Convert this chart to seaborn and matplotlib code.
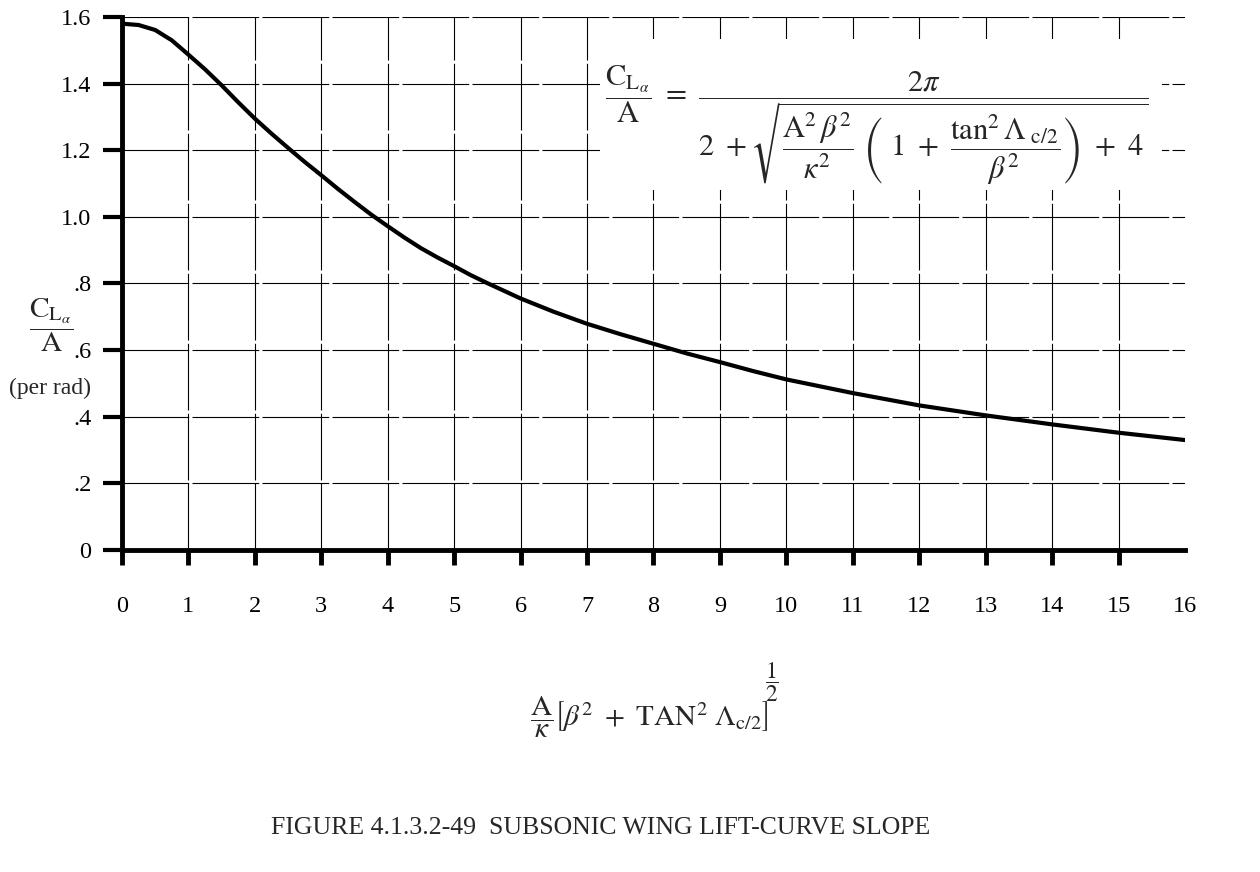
import numpy as np
import pandas as pd
import matplotlib
matplotlib.use("Agg")
import matplotlib.pyplot as plt
from matplotlib.patches import Rectangle
import seaborn as sns

# values
x_param = [0, 0.25, 0.5, 0.75, 1, 1.25, 1.5, 1.75, 2, 2.25, 2.5, 2.75, 3, 3.25, 3.5, 3.75,
           4, 4.25, 4.5, 4.75, 5, 5.25, 5.5, 5.75, 6, 6.5, 7, 7.5, 8, 8.5, 9, 9.5, 10,
           11, 12, 13, 14, 15, 16]
cla_over_a = [1.580, 1.576, 1.561, 1.530, 1.487, 1.443, 1.395, 1.344, 1.295, 1.250, 1.207,
              1.165, 1.125, 1.084, 1.045, 1.007, 0.972, 0.938, 0.906, 0.878, 0.852, 0.825,
              0.801, 0.778, 0.755, 0.715, 0.679, 0.648, 0.619, 0.590, 0.564, 0.537, 0.512,
              0.471, 0.434, 0.404, 0.377, 0.352, 0.330]
x_ticks = list(range(0, 16))     # ticks with a stub + grid line
x_last = [16]                     # labelled only
y_ticks = [0, 0.2, 0.4, 0.6, 0.8, 1.0, 1.2, 1.4, 1.6]
y_ticklabels = ["0", ".2", ".4", ".6", ".8", "1.0", "1.2", "1.4", "1.6"]

df = pd.DataFrame({"x": x_param, "cla": cla_over_a})

sns.set_theme(style="white")
plt.rcParams["font.family"] = ["Liberation Serif", "DejaVu Serif"]
plt.rcParams["mathtext.fontset"] = "stix"

fig = plt.figure(figsize=(12.6, 8.72), dpi=100)
ax = fig.add_axes([0.0968, 0.3693, 0.8437, 0.6112])

sns.lineplot(data=df, x="x", y="cla", color="black", lw=3, ax=ax, zorder=5,
             solid_joinstyle="round", solid_capstyle="round")

ax.set_xlim(0, 16)
ax.set_ylim(0, 1.6)
ax.set_xticks(x_ticks)
ax.set_xticklabels([str(t) for t in x_ticks], fontsize=17.5)
ax.set_xticks(x_last, minor=True)
ax.set_xticklabels([str(t) for t in x_last], minor=True, fontsize=17.5)
ax.set_yticks(y_ticks)
ax.set_yticklabels(y_ticklabels, fontsize=17.5)
ax.set_xlabel("")
ax.set_ylabel("")

# grid
ax.grid(True, which="major", color="black", lw=0.8, linestyle=(0, (60, 3)))
ax.set_axisbelow(True)

# spines and ticks
for s in ["top", "right"]:
    ax.spines[s].set_visible(False)
for s in ["left", "bottom"]:
    ax.spines[s].set_linewidth(3.5)
    ax.spines[s].set_color("black")
ax.tick_params(axis="x", which="major", direction="out", length=11, width=3.5, pad=22, colors="black")
ax.tick_params(axis="x", which="minor", direction="out", length=11, width=0, pad=22, colors="black")
ax.tick_params(axis="y", direction="out", length=14, width=3, pad=8, colors="black")
ax.tick_params(bottom=True, left=True)

# white patch behind the formula
ax.add_patch(Rectangle((7.2, 1.08), 8.45, 0.455, facecolor="white", edgecolor="none", zorder=3))
ax.text(11.35, 1.275,
        r"$\dfrac{\mathrm{C}_{\mathrm{L}_{\alpha}}}{\mathrm{A}}\ =\ "
        r"\dfrac{2\pi}{2\ +\sqrt{\dfrac{\mathrm{A}^2\,\beta^2}{\kappa^2}\ \left(\ 1\ +\ \dfrac{\tan^2\Lambda_{\ \mathrm{c/2}}}{\beta^2}\right)\ +\ 4}}$",
        fontsize=22, ha="center", va="center", zorder=6)

# y label
fig.text(0.041, 0.627, r"$\dfrac{\mathrm{C}_{\mathrm{L}_{\alpha}}}{\mathrm{A}}$", fontsize=21,
         ha="center", va="center")
fig.text(0.040, 0.555, "(per rad)", fontsize=17, ha="center", va="center")

# x label with a full-size 1/2 exponent
fig.text(0.515, 0.177,
         r"$\dfrac{\mathrm{A}}{\kappa}\left[\beta^2\ +\ \mathrm{TAN}^2\ \Lambda_{\mathrm{c/2}}\right]$",
         fontsize=21, ha="center", va="center")
fig.text(0.613, 0.218, r"$\dfrac{1}{2}$", fontsize=17, ha="center", va="center")

fig.text(0.477, 0.05, "FIGURE 4.1.3.2-49  SUBSONIC WING LIFT-CURVE SLOPE",
         fontsize=18.5, ha="center", va="center")

fig.savefig("out.png", dpi=100, facecolor="white")
